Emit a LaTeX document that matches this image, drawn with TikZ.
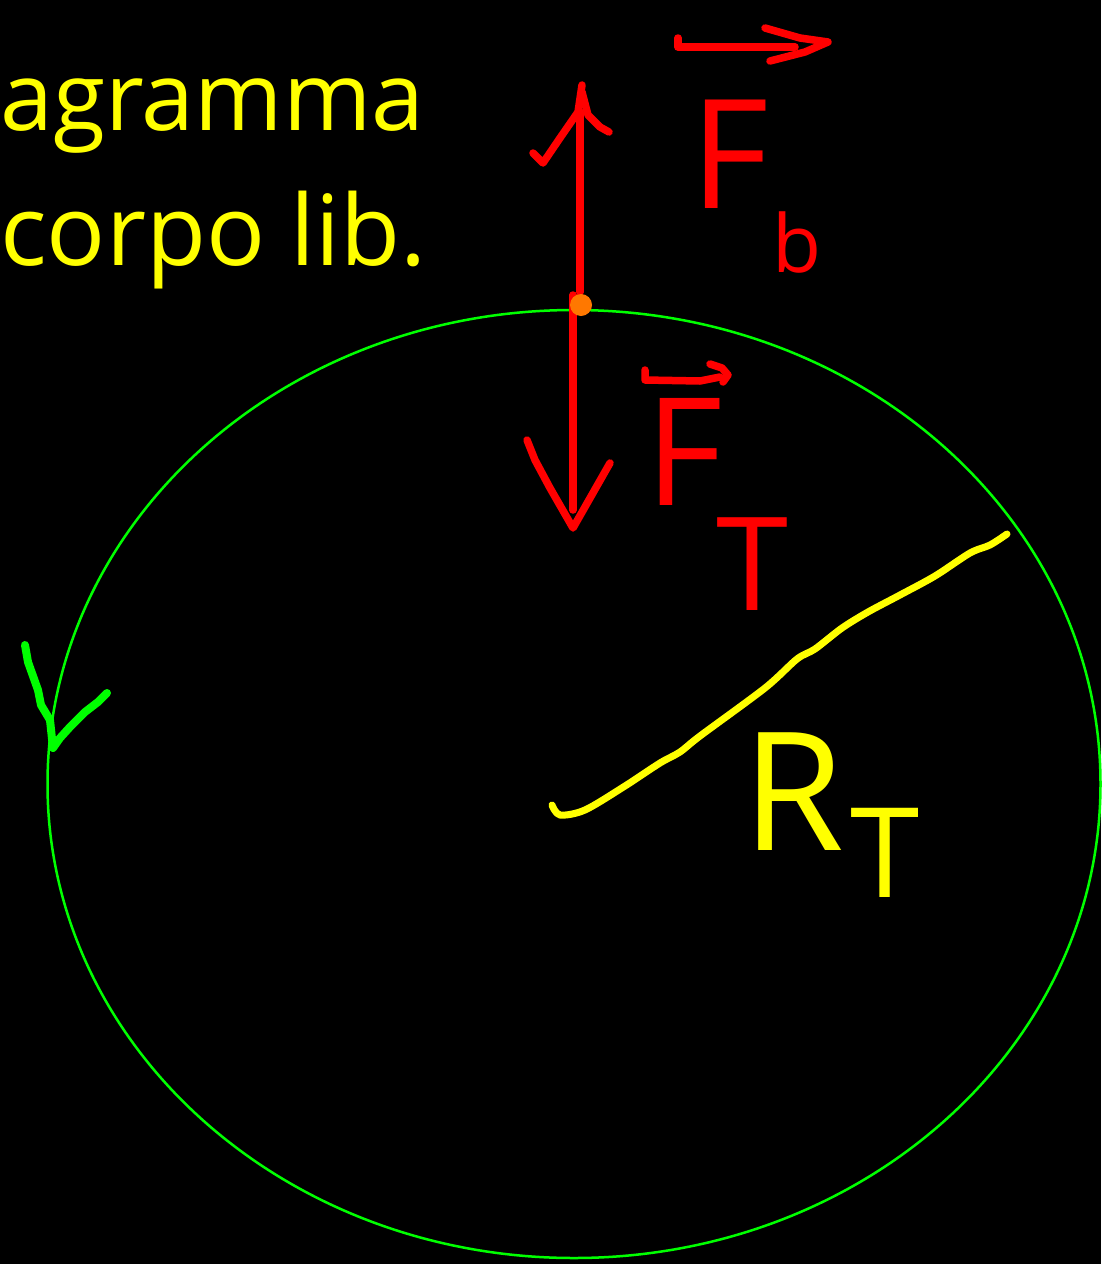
\documentclass[tikz,border=0pt]{standalone}
\usepackage{fontspec}
\setmainfont{Open Sans}
\definecolor{hred}{RGB}{255,0,0}
\definecolor{hyel}{RGB}{255,255,0}
\definecolor{hgreen}{RGB}{0,255,0}
\definecolor{horange}{RGB}{255,120,0}
\tikzset{
  redstroke/.style={draw=hred,line width=7.5pt,line cap=round,line join=round},
  yelstroke/.style={draw=hyel,line width=7pt,line cap=round,line join=round},
  greenstroke/.style={draw=hgreen,line width=8pt,line cap=round,line join=round},
  hand/.style={inner sep=0pt,anchor=base west},
}
\begin{document}
\begin{tikzpicture}[x=1pt,y=-1pt]
\fill[black] (0,0) rectangle (1101,1264);
\useasboundingbox (0,0) rectangle (1101,1264);

% title text
\node[hand,text=hyel,font=\fontsize{95}{95}\selectfont] (t1) at (0,130) {agramma};
\node[hand,text=hyel,font=\fontsize{98}{98}\selectfont] (t2) at (0,265) {corpo lib.};

% earth
\draw[hgreen,line width=2.5pt] (574,784) ellipse [x radius=526.5, y radius=474];
% rotation arrowhead
\draw[greenstroke] (25,645) -- (28,662) -- (38,690) -- (41,705) -- (50,720) -- (53,748)
  -- (60,738) -- (70,727) -- (85,712) -- (98,702) -- (107,693);

% radius
\draw[yelstroke] plot[smooth,tension=0.5] coordinates {(552,805) (560,815) (585,810) (625,786) (660,763) (680,752) (700,736) (765,688) (797,659) (815,649) (842,628) (868,612) (900,595) (935,576) (970,553) (990,545) (1007,534)};
\node[hand,text=hyel,font=\fontsize{165}{165}\selectfont] (R) at (742,850) {R};
\node[hand,text=hyel,font=\fontsize{125}{125}\selectfont] (RT) at (850,897) {T};

% forces
\draw[redstroke] (580,292) -- (580,112);
\draw[redstroke] (533,153) -- (543,163) -- (560,138) -- (578,112) -- (582,85);
\draw[redstroke] (582,92) -- (588,115) -- (600,127) -- (609,132);
\draw[redstroke] (573,295) -- (573,510);
\draw[redstroke] (527,440) -- (535,460) -- (550,488) -- (573,528) -- (610,463);
\fill[horange] (581,305) circle (11pt);

% F_b
\draw[redstroke] (678,38) -- (678,47) -- (795,47);
\draw[redstroke] (765,28) -- (800,38) -- (828,42) -- (805,52) -- (770,61);
\node[hand,text=hred,font=\fontsize{152}{152}\selectfont] (Fb) at (690,208) {F};
\node[hand,text=hred,font=\fontsize{80}{80}\selectfont] (b) at (772,272) {b};

% F_T
\draw[redstroke] (645,370) -- (645,380) -- (700,381) -- (720,377);
\draw[redstroke] (710,364) -- (722,368) -- (728,375) -- (723,382);
\node[hand,text=hred,font=\fontsize{150}{150}\selectfont] (FT) at (645,505) {F};
\node[hand,text=hred,font=\fontsize{130}{130}\selectfont] (T) at (716,610) {T};
\end{tikzpicture}
\end{document}
